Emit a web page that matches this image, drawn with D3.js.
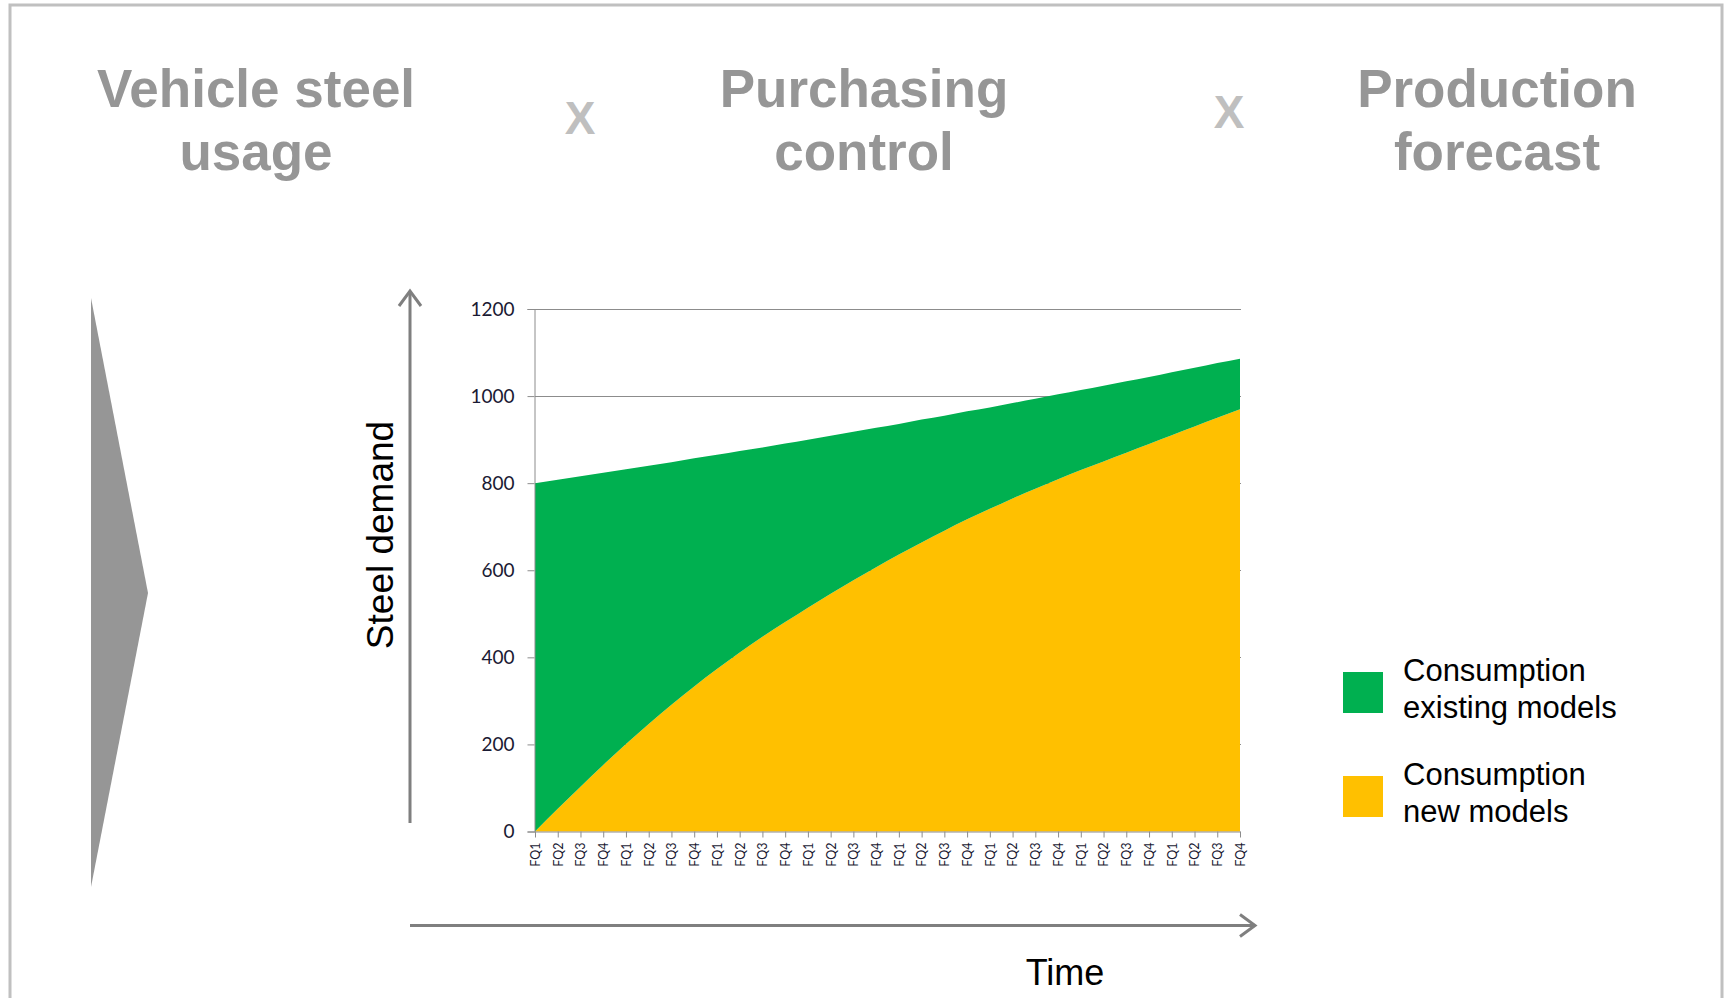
<!DOCTYPE html>
<html>
<head>
<meta charset="utf-8">
<script src="https://cdn.jsdelivr.net/npm/d3@7/dist/d3.min.js"></script>
<style>
  html, body { margin: 0; padding: 0; background: #ffffff; }
  svg { display: block; }
</style>
</head>
<body>
<svg id="chart" width="1732" height="998"></svg>
<script>
// ---------------- data ----------------
const quarters = [
  "FQ1","FQ2","FQ3","FQ4","FQ1","FQ2","FQ3","FQ4",
  "FQ1","FQ2","FQ3","FQ4","FQ1","FQ2","FQ3","FQ4",
  "FQ1","FQ2","FQ3","FQ4","FQ1","FQ2","FQ3","FQ4",
  "FQ1","FQ2","FQ3","FQ4","FQ1","FQ2","FQ3","FQ4"
];
const newModels = [
  0, 52, 103, 153, 201, 247, 291, 333, 373, 411, 447, 481, 514, 546, 577, 607,
  636, 664, 691, 717, 741, 765, 787, 809, 830, 850, 870, 890, 910, 930, 950, 970
];
const existingModels = [
  800, 756, 713, 671, 631, 593, 557, 524, 492, 463, 435, 410, 386, 363, 341, 320,
  300, 282, 264, 248, 233, 219, 207, 195, 184, 174, 164, 154, 145, 135, 126, 116
];
const yTicks = [0, 200, 400, 600, 800, 1000, 1200];
const seriesNames = ["Consumption new models", "Consumption existing models"];
const legendLines = [["Consumption", "existing models"], ["Consumption", "new models"]];
const titles = [["Vehicle steel", "usage"], ["Purchasing", "control"], ["Production", "forecast"]];
const axisTitles = { y: "Steel demand", x: "Time" };

// ---------------- drawing ----------------
const svg = d3.select("#chart");
const colors = { newModels: "#FFC000", existingModels: "#00B050" };

// frame
svg.append("rect")
  .attr("x", 10).attr("y", 5).attr("width", 1712).attr("height", 1100)
  .attr("fill", "none").attr("stroke", "#c0c0c0").attr("stroke-width", 3);

// titles
const titleX = [256, 864, 1497];
titles.forEach((t, i) => {
  const txt = svg.append("text")
    .attr("x", titleX[i]).attr("y", 107)
    .attr("text-anchor", "middle")
    .attr("font-family", "'Liberation Sans', Arial, sans-serif")
    .attr("font-weight", "bold").attr("font-size", 53)
    .attr("fill", "#969696");
  t.forEach((line, j) => {
    txt.append("tspan").attr("x", titleX[i]).attr("dy", j === 0 ? 0 : 63).text(line);
  });
});
[[580, 134], [1229, 128]].forEach(p => {
  svg.append("text").attr("x", p[0]).attr("y", p[1])
    .attr("text-anchor", "middle")
    .attr("font-family", "'Liberation Sans', Arial, sans-serif")
    .attr("font-weight", "bold").attr("font-size", 46)
    .attr("fill", "#bfbfbf").text("X");
});

// chevron
svg.append("polygon")
  .attr("points", "91,298 148,593 91,887")
  .attr("fill", "#969696");

// scales
const idx = d3.range(quarters.length);
const x = d3.scalePoint().domain(idx).range([535, 1240]);
const y = d3.scaleLinear().domain([0, 1200]).range([831.5, 309]);

const rows = idx.map(i => ({ i, newModels: newModels[i], existingModels: existingModels[i] }));
const stack = d3.stack().keys(["newModels", "existingModels"]);
const layers = stack(rows);

// gridlines (behind area)
svg.append("g").selectAll("line").data(yTicks.filter(d => d > 0)).join("line")
  .attr("x1", 535).attr("x2", 1241)
  .attr("y1", d => Math.round(y(d)) + 0.5).attr("y2", d => Math.round(y(d)) + 0.5)
  .attr("stroke", "#8c8c8c").attr("stroke-width", 1);

// areas
const area = d3.area()
  .x(d => x(d.data.i))
  .y0(d => y(d[0]))
  .y1(d => y(d[1]))
  .curve(d3.curveMonotoneX);
svg.append("g").selectAll("path").data(layers).join("path")
  .attr("d", area)
  .attr("fill", d => colors[d.key]);

// y axis
const gy = svg.append("g").attr("transform", "translate(534.5,0)")
  .call(d3.axisLeft(y).tickValues(yTicks).tickSize(7).tickPadding(13).tickFormat(d3.format("d")));
gy.select(".domain").attr("stroke", "#8c8c8c");
gy.selectAll(".tick line").attr("stroke", "#8c8c8c");
gy.selectAll(".tick text")
  .attr("font-family", "Lato, 'Open Sans', sans-serif")
  .attr("font-size", 19).attr("fill", "#1a1a33");

// x axis
const gx = svg.append("g").attr("transform", "translate(0,831.5)")
  .call(d3.axisBottom(x).tickSize(6).tickFormat(i => quarters[i]));
gx.select(".domain").attr("stroke", "#8c8c8c").attr("d", "M534.5,0.5H1240.5");
gx.selectAll(".tick line").attr("stroke", "#8c8c8c");
gx.selectAll(".tick text")
  .attr("font-family", "Lato, 'Open Sans', sans-serif")
  .attr("font-size", 12.5).attr("fill", "#1a1a33")
  .attr("text-anchor", "end")
  .attr("x", 0).attr("y", 0).attr("dy", "0.35em")
  .attr("transform", "translate(0,11) rotate(-90)");

// axis arrows
const arrowColor = "#7f7f7f";
svg.append("line").attr("x1", 410).attr("y1", 823).attr("x2", 410).attr("y2", 292)
  .attr("stroke", arrowColor).attr("stroke-width", 3);
svg.append("path").attr("d", "M399,306 L410,291 L421,306")
  .attr("fill", "none").attr("stroke", arrowColor).attr("stroke-width", 3);
svg.append("line").attr("x1", 410).attr("y1", 925.5).attr("x2", 1254).attr("y2", 925.5)
  .attr("stroke", arrowColor).attr("stroke-width", 3);
svg.append("path").attr("d", "M1240,914.5 L1255,925.5 L1240,936.5")
  .attr("fill", "none").attr("stroke", arrowColor).attr("stroke-width", 3);

// axis titles
svg.append("text")
  .attr("transform", "translate(393,535) rotate(-90)")
  .attr("text-anchor", "middle")
  .attr("font-family", "'Liberation Sans', Arial, sans-serif")
  .attr("font-size", 37).attr("fill", "#000").text(axisTitles.y);
svg.append("text")
  .attr("x", 1065).attr("y", 985)
  .attr("text-anchor", "middle")
  .attr("font-family", "'Liberation Sans', Arial, sans-serif")
  .attr("font-size", 36).attr("fill", "#000").text(axisTitles.x);

// legend
const legendItems = [
  { key: "existingModels", lines: legendLines[0], top: 672 },
  { key: "newModels", lines: legendLines[1], top: 776 }
];
const lg = svg.append("g");
legendItems.forEach(item => {
  lg.append("rect").attr("x", 1343).attr("y", item.top).attr("width", 40).attr("height", 41)
    .attr("fill", colors[item.key]);
  const t = lg.append("text")
    .attr("x", 1403).attr("y", item.top + 9)
    .attr("font-family", "'Liberation Sans', Arial, sans-serif")
    .attr("font-size", 31).attr("fill", "#000");
  item.lines.forEach((ln, j) => {
    t.append("tspan").attr("x", 1403).attr("dy", j === 0 ? 0 : 37).text(ln);
  });
});
</script>
</body>
</html>
